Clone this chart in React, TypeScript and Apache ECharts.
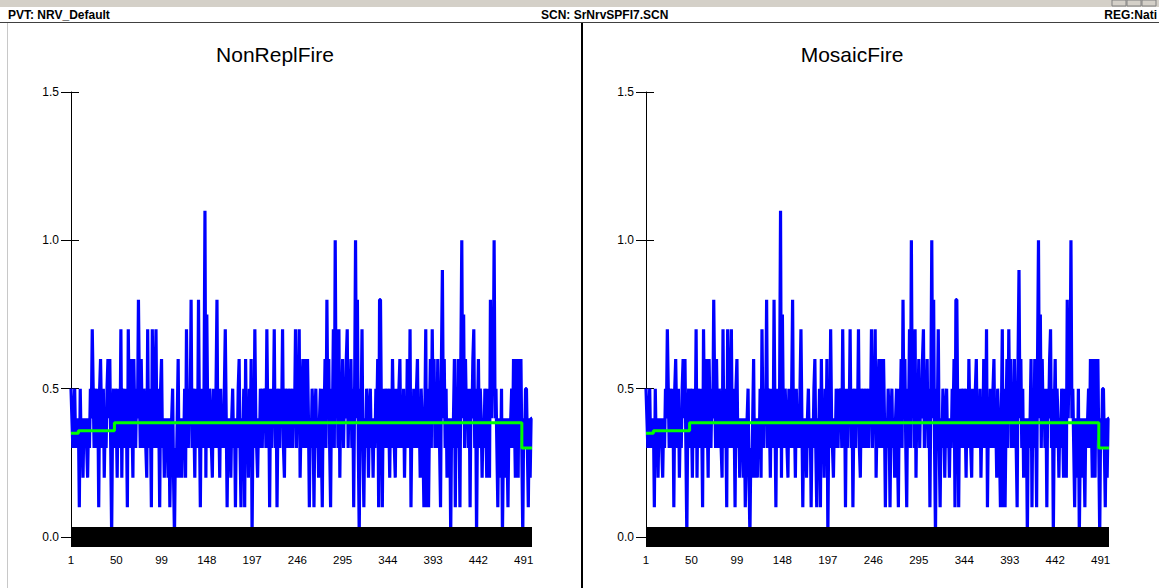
import React, { useEffect, useRef } from "react";
import * as echarts from "echarts";

const headerLeft = "PVT: NRV_Default";
const headerMid = "SCN: SrNrvSPFI7.SCN";
const headerRight = "REG:Nati";
const panelTitles = ["NonReplFire", "MosaicFire"];

const nonReplFire = [
  0.5,0.4,0.3,0.4,0.5,0.3,0.4,0.3,0.4,0.1,
  0.5,0.3,0.4,0.2,0.4,0.3,0.4,0.3,0.2,0.4,
  0.3,0.5,0.4,0.7,0.5,0.3,0.5,0.4,0.3,0.5,
  0.1,0.5,0.6,0.4,0.3,0.5,0.2,0.4,0.3,0.5,
  0.6,0.4,0.6,0.3,0.0,0.4,0.5,0.3,0.5,0.4,
  0.2,0.5,0.4,0.3,0.7,0.2,0.5,0.4,0.3,0.5,
  0.4,0.1,0.7,0.4,0.3,0.6,0.4,0.2,0.6,0.4,
  0.3,0.5,0.4,0.8,0.5,0.3,0.6,0.4,0.3,0.5,
  0.4,0.3,0.2,0.7,0.3,0.5,0.4,0.1,0.7,0.4,
  0.3,0.5,0.7,0.3,0.5,0.4,0.1,0.5,0.6,0.3,
  0.4,0.2,0.4,0.3,0.4,0.2,0.4,0.1,0.3,0.4,
  0.5,0.2,0.0,0.3,0.2,0.4,0.6,0.2,0.4,0.3,
  0.2,0.4,0.3,0.5,0.2,0.7,0.4,0.3,0.5,0.4,
  0.8,0.3,0.5,0.4,0.2,0.5,0.4,0.3,0.8,0.4,
  0.1,0.5,0.4,0.3,0.5,1.1,0.2,0.75,0.4,0.3,
  0.5,0.4,0.3,0.2,0.5,0.4,0.3,0.5,0.8,0.3,
  0.4,0.2,0.5,0.3,0.4,0.3,0.5,0.7,0.4,0.1,
  0.4,0.3,0.4,0.2,0.4,0.5,0.3,0.4,0.1,0.4,
  0.3,0.5,0.6,0.3,0.1,0.4,0.3,0.5,0.1,0.6,
  0.3,0.4,0.2,0.5,0.3,0.6,0.0,0.4,0.3,0.7,
  0.4,0.3,0.2,0.4,0.3,0.5,0.4,0.3,0.5,0.4,
  0.5,0.3,0.7,0.4,0.5,0.1,0.5,0.3,0.5,0.4,
  0.7,0.3,0.5,0.1,0.4,0.5,0.3,0.5,0.4,0.7,
  0.3,0.2,0.5,0.4,0.3,0.5,0.4,0.3,0.5,0.4,
  0.3,0.5,0.4,0.7,0.3,0.5,0.4,0.7,0.2,0.4,
  0.5,0.6,0.3,0.6,0.4,0.3,0.6,0.4,0.1,0.4,
  0.3,0.5,0.4,0.1,0.4,0.5,0.3,0.4,0.2,0.4,
  0.5,0.3,0.1,0.5,0.4,0.6,0.3,0.8,0.4,0.6,
  0.3,0.1,0.5,0.4,0.7,0.3,1.0,0.4,0.6,0.3,
  0.7,0.2,0.5,0.4,0.6,0.3,0.5,0.4,0.6,0.7,
  0.3,0.5,0.4,0.6,0.3,0.5,0.1,0.5,1.0,0.4,
  0.8,0.3,0.0,0.5,0.4,0.7,0.3,0.1,0.4,0.3,
  0.5,0.4,0.2,0.4,0.5,0.3,0.4,0.2,0.4,0.3,
  0.5,0.4,0.6,0.1,0.8,0.8,0.4,0.1,0.5,0.3,
  0.5,0.4,0.3,0.5,0.4,0.2,0.5,0.3,0.6,0.4,
  0.3,0.2,0.5,0.4,0.3,0.5,0.6,0.3,0.4,0.3,
  0.5,0.2,0.4,0.3,0.6,0.4,0.3,0.7,0.1,0.4,
  0.3,0.5,0.4,0.3,0.5,0.6,0.3,0.4,0.2,0.5,
  0.4,0.3,0.1,0.4,0.7,0.1,0.5,0.1,0.4,0.6,
  0.3,0.7,0.4,0.6,0.3,0.5,0.3,0.6,0.4,0.3,
  0.1,0.6,0.9,0.4,0.6,0.3,0.5,0.2,0.4,0.3,
  0.4,0.0,0.4,0.3,0.4,0.6,0.1,0.5,0.3,0.6,
  0.4,0.1,0.6,1.0,0.4,0.75,0.3,0.6,0.4,0.5,
  0.3,0.5,0.1,0.5,0.4,0.6,0.7,0.3,0.5,0.0,
  0.4,0.6,0.3,0.5,0.4,0.2,0.4,0.3,0.5,0.4,
  0.2,0.5,0.4,0.2,0.8,0.4,0.6,0.5,1.0,0.4,
  0.5,0.3,0.1,0.4,0.3,0.2,0.5,0.0,0.3,0.4,
  0.2,0.4,0.3,0.1,0.4,0.3,0.4,0.5,0.3,0.6,
  0.4,0.2,0.6,0.3,0.2,0.6,0.4,0.6,0.3,0.0,
  0.4,0.3,0.5,0.5,0.3,0.1,0.4,0.2,0.4,0.4,
];
// the MosaicFire panel shows the same trace
const mosaicFire = nonReplFire;

// running mean (green) as steps: x where a level starts, and the level
const meanStepX = ["1", "9", "48", "489", "500"];
const meanStepY = [0.35, 0.358, 0.385, 0.3, 0.3];

const FONT = "'Liberation Sans', Arial, sans-serif";

export default function App() {
  const ref = useRef<HTMLDivElement>(null);
  useEffect(() => {
    const chart = echarts.init(ref.current!, null, { renderer: "svg" });
    const xCats = nonReplFire.map((_, i) => String(i + 1));
    const seriesData = [nonReplFire, mosaicFire];
    const meanPairs = meanStepX.map((x, i) => [x, meanStepY[i]]);
    const grids = [
      { left: 71, top: 92, width: 461, height: 445 },
      { left: 646, top: 92, width: 463, height: 445 },
    ];
    const xAxes: any[] = [];
    const yAxes: any[] = [];
    const series: any[] = [];
    grids.forEach((_, g) => {
      xAxes.push({
        type: "category",
        gridIndex: g,
        data: xCats,
        boundaryGap: false,
        z: 10,
        axisLine: { show: true, lineStyle: { color: "#000", width: 20, cap: "butt" } },
        axisTick: { show: false },
        axisLabel: {
          interval: (index: number) => index % 49 === 0,
          color: "#000",
          fontSize: 11.5,
          fontFamily: FONT,
          margin: 17,
        },
        splitLine: { show: false },
      });
      yAxes.push({
        type: "value",
        gridIndex: g,
        position: "left",
        min: 0,
        max: 1.5,
        interval: 0.5,
        axisLine: { show: true, lineStyle: { color: "#000", width: 1 } },
        axisTick: { show: true, length: 10, lineStyle: { color: "#000" } },
        axisLabel: {
          formatter: (v: number) => v.toFixed(1),
          color: "#000",
          fontSize: 12,
          fontFamily: FONT,
          margin: 12,
        },
        splitLine: { show: false },
      });
      yAxes.push({
        type: "value",
        gridIndex: g,
        position: "left",
        min: 0,
        max: 1.5,
        interval: 0.5,
        axisLine: { show: false },
        axisTick: { show: true, inside: true, length: 8, lineStyle: { color: "#000" } },
        axisLabel: { show: false },
        splitLine: { show: false },
      });
      series.push({
        type: "line",
        xAxisIndex: g,
        yAxisIndex: g * 2,
        data: seriesData[g],
        showSymbol: false,
        symbol: "none",
        lineStyle: { color: "#0000ff", width: 3.2 },
        z: 2,
      });
      series.push({
        type: "line",
        xAxisIndex: g,
        yAxisIndex: g * 2,
        data: meanPairs,
        step: "end",
        showSymbol: false,
        symbol: "none",
        lineStyle: { color: "#00ff00", width: 3 },
        z: 3,
      });
    });

    chart.setOption({
      animation: false,
      backgroundColor: "#ffffff",
      grid: grids,
      xAxis: xAxes,
      yAxis: yAxes,
      series,
      graphic: [
        { type: "rect", shape: { x: 0, y: 0, width: 1159, height: 7 }, style: { fill: "#d4d0c8" } },
        { type: "rect", shape: { x: 1112, y: 0, width: 14, height: 6 }, style: { fill: "#d4d0c8", stroke: "#808080" } },
        { type: "rect", shape: { x: 1127, y: 0, width: 14, height: 6 }, style: { fill: "#d4d0c8", stroke: "#808080" } },
        { type: "rect", shape: { x: 1142, y: 0, width: 14, height: 6 }, style: { fill: "#d4d0c8", stroke: "#808080" } },
        {
          type: "text", x: 8, y: 15,
          style: { text: headerLeft, font: `bold 12px ${FONT}`, fill: "#000", textVerticalAlign: "middle" },
        },
        {
          type: "text", x: 541, y: 15,
          style: { text: headerMid, font: `bold 12px ${FONT}`, fill: "#000", textVerticalAlign: "middle" },
        },
        {
          type: "text", x: 1157, y: 15,
          style: { text: headerRight, font: `bold 12px ${FONT}`, fill: "#000", textAlign: "right", textVerticalAlign: "middle" },
        },
        { type: "line", shape: { x1: 0, y1: 22.5, x2: 1159, y2: 22.5 }, style: { stroke: "#404040", lineWidth: 1 } },
        { type: "line", shape: { x1: 7.5, y1: 23, x2: 7.5, y2: 588 }, style: { stroke: "#c8c8c8", lineWidth: 1 } },
        { type: "line", shape: { x1: 582, y1: 23, x2: 582, y2: 588 }, style: { stroke: "#000", lineWidth: 2 } },
        {
          type: "text", x: 275, y: 54,
          style: { text: panelTitles[0], font: `21px ${FONT}`, fill: "#000", textAlign: "center", textVerticalAlign: "middle" },
        },
        {
          type: "text", x: 852, y: 54,
          style: { text: panelTitles[1], font: `21px ${FONT}`, fill: "#000", textAlign: "center", textVerticalAlign: "middle" },
        },
      ],
    });
    return () => chart.dispose();
  }, []);
  return (
    <div
      ref={ref}
      style={{ position: "fixed", left: 0, top: 0, width: 1159, height: 588 }}
    />
  );
}
